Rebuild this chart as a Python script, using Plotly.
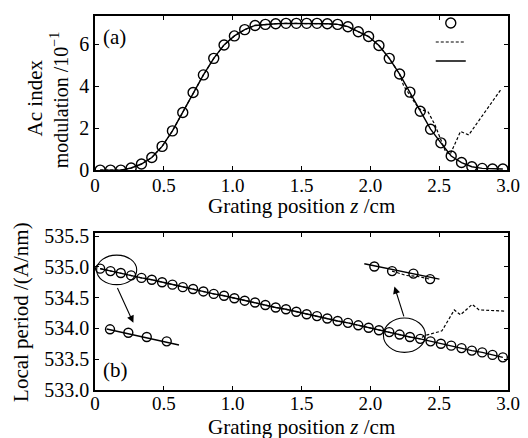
import plotly.graph_objects as go

# ---------------- data ----------------
z_mark = [0.0375 + 0.075 * k for k in range(40)]

# (a) ac index modulation (x 10^-1)
ac_mark = [0, 0, 0, 0.1, 0.29, 0.6, 1.13, 1.87, 2.75, 3.7,
           4.54, 5.33, 5.97, 6.4, 6.7, 6.9, 6.95, 6.98, 7.0, 7.0,
           7.0, 7.0, 6.98, 6.95, 6.84, 6.6, 6.37, 5.94, 5.33, 4.58,
           3.72, 2.81, 1.95, 1.3, 0.67, 0.36, 0.16, 0.08, 0.05, 0.05]
ac_dash_z_tail = [2.242, 2.352, 2.42, 2.47, 2.545, 2.58, 2.655, 2.715, 2.95]
ac_dash_tail = [4.02, 2.93, 2.77, 2.15, 0.9, 0.75, 1.84, 1.68, 3.86]

# (b) local period
lp_mark = [534.97, 534.93, 534.90, 534.86, 534.82, 534.79, 534.75, 534.71, 534.67, 534.64,
           534.60, 534.56, 534.53, 534.49, 534.45, 534.42, 534.38, 534.34, 534.31, 534.27,
           534.23, 534.20, 534.16, 534.12, 534.09, 534.05, 534.01, 533.97, 533.94, 533.90,
           533.86, 533.83, 533.79, 533.75, 533.72, 533.68, 533.64, 533.61, 533.57, 533.53]
lp_dash_z_tail = [2.39, 2.52, 2.61, 2.655, 2.74, 2.79, 2.98]
lp_dash_tail = [533.88, 533.96, 534.30, 534.22, 534.39, 534.30, 534.28]

# insets in panel (b)
inL_mz = [0.109, 0.242, 0.376, 0.521]
inL_my = [533.985, 533.93, 533.86, 533.79]
inL_lz = [0.085, 0.61]
inL_ly = [533.99, 533.73]
inR_mz = [2.029, 2.158, 2.313, 2.434]
inR_my = [535.005, 534.93, 534.89, 534.80]
inR_lz = [1.956, 2.502]
inR_ly = [535.05, 534.80]
inR_dz = [2.158, 2.26, 2.34, 2.434]
inR_dy = [534.93, 534.86, 534.845, 534.80]

ellipses = [(0.012, 0.303, 534.71, 535.19), (2.095, 2.40, 533.61, 534.17)]
arrows = [((0.158, 534.68), (0.279, 534.09)), ((2.247, 534.17), (2.175, 534.68))]

x_ticks = [0, 0.5, 1.0, 1.5, 2.0, 2.5, 3.0]
x_tick_text = ["0", "0.5", "1.0", "1.5", "2.0", "2.5", "3.0"]
ya_ticks = [0, 2, 4, 6]
yb_ticks = [533.0, 533.5, 534.0, 534.5, 535.0, 535.5]

FONT = "Liberation Serif"
K = "black"
TS = 20   # tick size
LS = 21   # title size
mk = dict(symbol="circle-open", size=10, color=K, line=dict(width=1.4, color=K))
DASH = "3px,2px"

fig = go.Figure()

# ---- panel (a) ----
ac_dash_z = [z for z in z_mark if z < 2.23] + ac_dash_z_tail
ac_dash_v = [v for z, v in zip(z_mark, ac_mark) if z < 2.23] + ac_dash_tail

fig.add_trace(go.Scatter(x=z_mark, y=ac_mark, mode="markers", marker=mk, name=" ",
                         xaxis="x", yaxis="y", showlegend=True))
fig.add_trace(go.Scatter(x=ac_dash_z, y=ac_dash_v, mode="lines", name=" ",
                         line=dict(color=K, width=1.2, dash=DASH), xaxis="x", yaxis="y"))
fig.add_trace(go.Scatter(x=z_mark, y=ac_mark, mode="lines", name=" ",
                         line=dict(color=K, width=1.4), xaxis="x", yaxis="y"))

# ---- panel (b) ----
lp_dash_z = [z for z in z_mark if z < 2.38] + lp_dash_z_tail
lp_dash_v = [v for z, v in zip(z_mark, lp_mark) if z < 2.38] + lp_dash_tail
fig.add_trace(go.Scatter(x=lp_dash_z, y=lp_dash_v, mode="lines", showlegend=False,
                         line=dict(color=K, width=1.2, dash=DASH), xaxis="x2", yaxis="y2"))
fig.add_trace(go.Scatter(x=z_mark, y=lp_mark, mode="lines", showlegend=False,
                         line=dict(color=K, width=1.4), xaxis="x2", yaxis="y2"))
fig.add_trace(go.Scatter(x=z_mark, y=lp_mark, mode="markers", showlegend=False,
                         marker=dict(mk, size=9), xaxis="x2", yaxis="y2"))
# insets
for lz, ly in ((inL_lz, inL_ly), (inR_lz, inR_ly)):
    fig.add_trace(go.Scatter(x=lz, y=ly, mode="lines", showlegend=False,
                             line=dict(color=K, width=1.4), xaxis="x2", yaxis="y2"))
fig.add_trace(go.Scatter(x=inR_dz, y=inR_dy, mode="lines", showlegend=False,
                         line=dict(color=K, width=1.1, dash=DASH), xaxis="x2", yaxis="y2"))
for mz, my in ((inL_mz, inL_my), (inR_mz, inR_my)):
    fig.add_trace(go.Scatter(x=mz, y=my, mode="markers", showlegend=False,
                             marker=dict(mk, size=9), xaxis="x2", yaxis="y2"))

for (x0, x1, y0, y1) in ellipses:
    fig.add_shape(type="circle", xref="x2", yref="y2", x0=x0, x1=x1, y0=y0, y1=y1,
                  line=dict(color=K, width=1.1))
for (sx, sy), (ex, ey) in arrows:
    fig.add_annotation(xref="x2", yref="y2", axref="x2", ayref="y2", x=ex, y=ey, ax=sx, ay=sy,
                       text="", showarrow=True, arrowhead=2, arrowsize=1.3, arrowwidth=1.1,
                       arrowcolor=K)

fig.add_annotation(xref="x", yref="y", x=0.04, y=6.35, text="(a)", showarrow=False,
                   xanchor="left", font=dict(family=FONT, size=LS, color=K))
fig.add_annotation(xref="x2", yref="y2", x=0.04, y=533.33, text="(b)", showarrow=False,
                   xanchor="left", font=dict(family=FONT, size=LS, color=K))

# axis titles as annotations
fig.add_annotation(xref="paper", yref="paper", x=-0.145, y=0.78, text="Ac index",
                   textangle=-90, showarrow=False, xanchor="center", yanchor="middle",
                   font=dict(family=FONT, size=LS, color=K))
fig.add_annotation(xref="paper", yref="paper", x=-0.085, y=0.777,
                   text="modulation /10<sup>−1</sup>",
                   textangle=-90, showarrow=False, xanchor="center", yanchor="middle",
                   font=dict(family=FONT, size=20, color=K))
fig.add_annotation(xref="paper", yref="paper", x=-0.178, y=0.21,
                   text="Local period /(A/nm)",
                   textangle=-90, showarrow=False, xanchor="center", yanchor="middle",
                   font=dict(family=FONT, size=LS, color=K))
for ty in (0.491, -0.100):
    fig.add_annotation(xref="paper", yref="paper", x=0.5, y=ty,
                       text="Grating position <i>z</i> /cm", showarrow=False,
                       xanchor="center", yanchor="middle",
                       font=dict(family=FONT, size=21, color=K))

xcommon = dict(range=[0, 3.0], tickvals=x_ticks, ticktext=x_tick_text, ticks="inside",
               ticklen=4, tickwidth=1, tickcolor=K, showline=True, linecolor=K, linewidth=1.5,
               mirror="ticks", showgrid=False, zeroline=False, automargin=False,
               tickfont=dict(family=FONT, size=19, color=K))
ycommon = dict(ticks="inside", ticklen=4, tickwidth=1, tickcolor=K, showline=True,
               linecolor=K, linewidth=1.5, mirror="ticks", showgrid=False, zeroline=False,
               automargin=False, tickfont=dict(family=FONT, size=TS, color=K))

fig.update_layout(
    width=528, height=438,
    margin=dict(l=95, r=20, t=9, b=48),
    paper_bgcolor="white", plot_bgcolor="white",
    xaxis=dict(xcommon, anchor="y", domain=[0, 1], ticklabelstandoff=-3),
    yaxis=dict(ycommon, domain=[0.588, 1], range=[0, 7.35], tickvals=ya_ticks),
    xaxis2=dict(xcommon, anchor="y2", domain=[0, 1], ticklabelstandoff=-5),
    yaxis2=dict(ycommon, domain=[0, 0.42], range=[533.0, 535.55], tickvals=yb_ticks,
                tickformat=".1f"),
    legend=dict(x=0.813, y=1.02, xanchor="left", yanchor="top", bgcolor="rgba(0,0,0,0)",
                font=dict(size=10), tracegroupgap=0, itemwidth=30),
    showlegend=True,
)

fig.write_html("out.html", config={"displayModeBar": False},
               post_script="document.body.style.margin='0';document.body.style.overflow='hidden';")
